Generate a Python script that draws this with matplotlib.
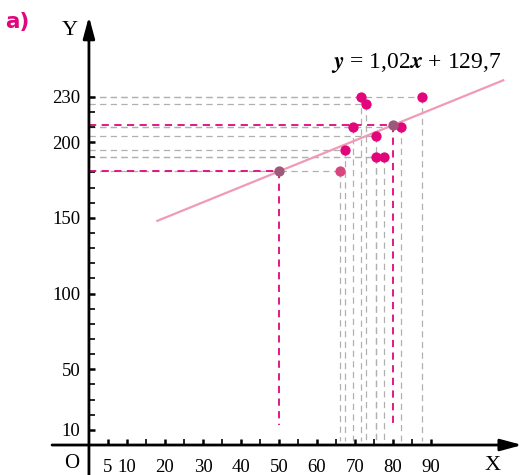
import matplotlib.pyplot as plt
from matplotlib.ticker import FixedLocator

# data
x_pts = [71.5, 87.5, 73, 69.5, 82, 75.5, 67.5, 75.5, 77.5, 66]
y_pts = [230, 230, 225, 210, 210, 204, 195, 190, 190, 181]
x_marked = [50, 80]
slope, intercept = 1.02, 129.7
line_x = [18, 109]

x_labels = [5, 10, 20, 30, 40, 50, 60, 70, 80, 90]
x_minor = list(range(5, 95, 5))
y_labels = [10, 50, 100, 150, 200, 230]
y_minor = list(range(10, 240, 10))

MAGENTA = "#e2067c"
PURPLE = "#9c5a7a"
GRAY = "#b0b0b0"
LINE = "#f09ab6"

plt.rcParams["font.family"] = ["Liberation Serif", "DejaVu Serif"]
plt.rcParams["mathtext.fontset"] = "stix"

fig = plt.figure(figsize=(5.23, 4.75), dpi=100)
ax = fig.add_axes([0, 0, 1, 1])
ax.set_xlim(-23.4, 114.2)
ax.set_ylim(-19.8, 293.9)

# guide lines from every point to both axes
dash = (0, (5, 3.5))
for x, y in zip(x_pts, y_pts):
    ax.plot([0, x], [y, y], color=GRAY, lw=0.9, ls=dash, zorder=1)
    ax.plot([x, x], [y, 2.5], color=GRAY, lw=0.9, ls=dash, zorder=1)

y_marked = [slope * x + intercept for x in x_marked]
for x, y in zip(x_marked, y_marked):
    ax.plot([0, x], [y, y], color=MAGENTA, lw=1.3, ls=(0, (4, 3)), zorder=2)
    ax.plot([x, x], [y, 13], color=MAGENTA, lw=1.3, ls=(0, (4, 3)), zorder=2)

# regression line
ax.plot(line_x, [slope * x + intercept for x in line_x], color=LINE, lw=1.6, zorder=3)

# points
ax.scatter(x_pts[:-1], y_pts[:-1], s=55, color=MAGENTA, zorder=4, linewidths=0)
ax.scatter(x_pts[-1:], y_pts[-1:], s=55, color="#d9467f", zorder=4, linewidths=0)
ax.scatter(x_marked, y_marked, s=55, color=PURPLE, zorder=5, linewidths=0)

# axes with arrows
for s in ax.spines.values():
    s.set_visible(False)
ax.spines["left"].set_position(("data", 0))
ax.spines["bottom"].set_position(("data", 0))
ax.annotate("", xy=(0, 283), xytext=(0, -20),
            arrowprops=dict(arrowstyle="-|>,head_length=1.3,head_width=0.35",
                            lw=2, color="k", shrinkA=0, shrinkB=0))
ax.annotate("", xy=(114, 0), xytext=(-9.7, 0),
            arrowprops=dict(arrowstyle="-|>,head_length=1.3,head_width=0.35",
                            lw=2, color="k", shrinkA=0, shrinkB=0))

ax.xaxis.set_major_locator(FixedLocator(x_labels))
ax.xaxis.set_minor_locator(FixedLocator(x_minor))
ax.yaxis.set_major_locator(FixedLocator(y_labels))
ax.yaxis.set_minor_locator(FixedLocator(y_minor))
ax.tick_params(which="major", direction="in", length=4.5, width=1.8, labelsize=13.5, colors="k")
ax.tick_params(which="minor", direction="in", length=4.5, width=1.2)
ax.tick_params(axis="x", which="major", pad=10)
ax.tick_params(axis="y", which="major", pad=6)
ax.set_xticklabels([str(v) for v in x_labels])
ax.set_yticklabels([str(v) for v in y_labels])

ax.text(-5, 274, "Y", fontsize=16, ha="center", va="center")
ax.text(106.3, -13.5, "X", fontsize=16, ha="center", va="center")
ax.text(-4.5, -12, "O", fontsize=15, ha="center", va="center")
ax.text(108.7, 252, r"$\boldsymbol{y}$ = 1,02$\boldsymbol{x}$ + 129,7",
        fontsize=17, ha="right", va="center")

fig.text(17 / 523, 1 - 22 / 475, "a)", color=MAGENTA, fontsize=15.5,
         fontweight="bold", family="DejaVu Sans", ha="center", va="center")

fig.savefig("out.png", dpi=100)
